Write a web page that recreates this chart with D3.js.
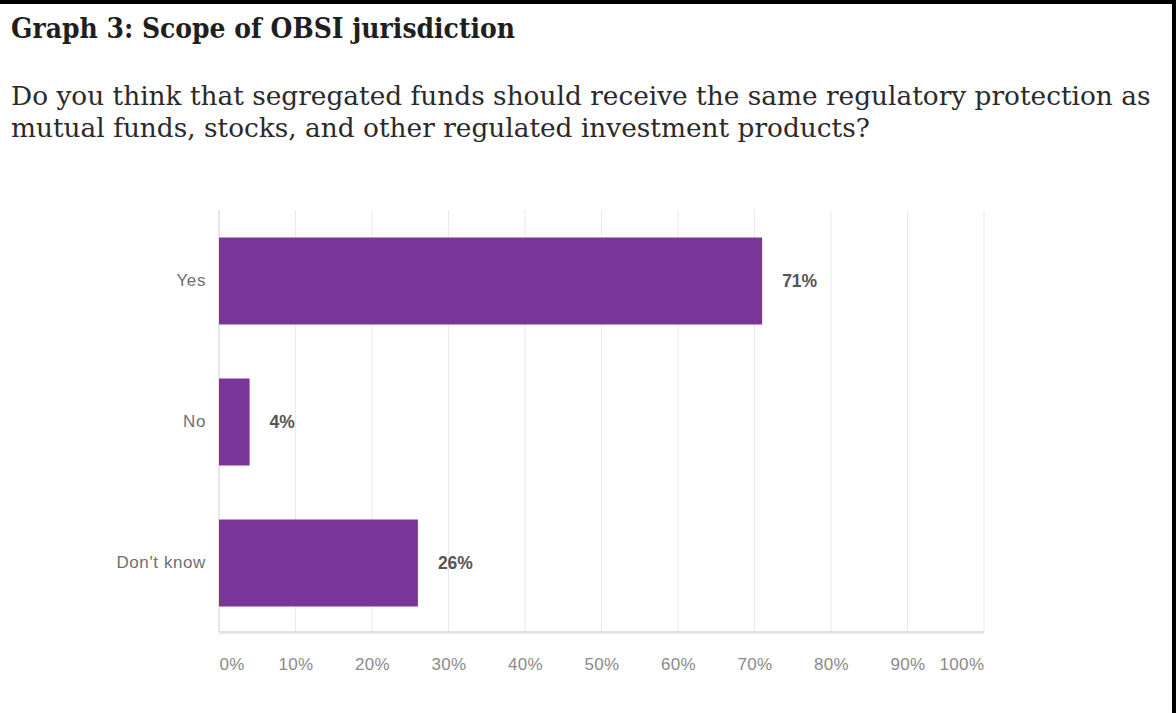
<!DOCTYPE html>
<html>
<head>
<meta charset="utf-8">
<script src="https://cdn.jsdelivr.net/npm/d3@7"></script>
<style>
  html, body { margin: 0; padding: 0; background: #fff; }
  svg { display: block; }
</style>
</head>
<body>
<svg id="chart" width="1176" height="713"></svg>
<script>
// Survey answers and their shares (percent of respondents)
const categories = ["Yes", "No", "Don't know"];
const shares = [71, 4, 26];
const tickValues = [0, 10, 20, 30, 40, 50, 60, 70, 80, 90, 100];
const tickLabels = ["0%", "10%", "20%", "30%", "40%", "50%", "60%", "70%", "80%", "90%", "100%"];

const titleText = "Graph 3: Scope of OBSI jurisdiction";
const questionLines = [
  "Do you think that segregated funds should receive the same regulatory protection as",
  "mutual funds, stocks, and other regulated investment products?"
];

const W = 1176, H = 713;
const svg = d3.select("#chart");

svg.append("rect").attr("width", W).attr("height", H).attr("fill", "#fff");

// frame: heavy rule on top and right edge
svg.append("rect").attr("x", 0).attr("y", 0).attr("width", W).attr("height", 4).attr("fill", "#000");
svg.append("rect").attr("x", W - 4).attr("y", 0).attr("width", 4).attr("height", H).attr("fill", "#000");

// heading
svg.append("text")
  .attr("x", 11).attr("y", 38)
  .attr("font-family", "'DejaVu Serif', 'Liberation Serif', serif")
  .attr("font-weight", "bold")
  .attr("font-size", 28)
  .attr("fill", "#1f1f1f")
  .attr("textLength", 504)
  .attr("lengthAdjust", "spacingAndGlyphs")
  .text(titleText);

// question, sized so the first line spans the text column
const q = svg.append("g")
  .attr("font-family", "'DejaVu Serif', 'Liberation Serif', serif")
  .attr("fill", "#2a2a2a");
const probe = q.append("text").attr("font-size", 100).text(questionLines[0]);
const qSize = 100 * 1140 / probe.node().getComputedTextLength();
probe.remove();
q.selectAll("text.q").data(questionLines).join("text")
  .attr("class", "q")
  .attr("x", 11)
  .attr("y", (d, i) => 105 + i * 32)
  .attr("font-size", qSize)
  .text(d => d);

// chart area
const x = d3.scaleLinear().domain([0, 100]).range([219, 984]);
const y = d3.scaleBand().domain(categories).range([210, 634])
  .paddingInner(0.383).paddingOuter(0.195);
const plotTop = 210, plotBottom = 632;

// vertical gridlines
svg.append("g").selectAll("line").data(tickValues).join("line")
  .attr("x1", d => x(d)).attr("x2", d => x(d))
  .attr("y1", plotTop).attr("y2", plotBottom)
  .attr("stroke", d => d === 0 ? "#cfcfcf" : "#e9e9e9")
  .attr("stroke-width", 1);

// bottom rule with a faint shadow
svg.append("line")
  .attr("x1", x(0)).attr("x2", x(100)).attr("y1", plotBottom + 1.5).attr("y2", plotBottom + 1.5)
  .attr("stroke", "#f0f0f0").attr("stroke-width", 2);
svg.append("line")
  .attr("x1", x(0)).attr("x2", x(100)).attr("y1", plotBottom).attr("y2", plotBottom)
  .attr("stroke", "#d8d8d8").attr("stroke-width", 1.5);

// bars
const rows = categories.map((c, i) => ({ cat: c, val: shares[i] }));
svg.append("g").selectAll("rect").data(rows).join("rect")
  .attr("x", x(0))
  .attr("y", d => y(d.cat))
  .attr("width", d => x(d.val) - x(0))
  .attr("height", y.bandwidth())
  .attr("fill", "#7a3599");

// value labels
svg.append("g").selectAll("text").data(rows).join("text")
  .attr("x", d => x(d.val) + 20)
  .attr("y", d => y(d.cat) + y.bandwidth() / 2)
  .attr("dy", "0.35em")
  .attr("font-family", "'Liberation Sans', Arial, sans-serif")
  .attr("font-weight", "bold")
  .attr("font-size", 17.5)
  .attr("fill", "#555")
  .text(d => d.val + "%");

// category axis
const yAxis = svg.append("g")
  .attr("transform", `translate(${x(0) - 13},0)`)
  .call(d3.axisLeft(y).tickSize(0).tickPadding(0));
yAxis.select(".domain").remove();
yAxis.selectAll("text")
  .attr("font-family", "'Liberation Sans', Arial, sans-serif")
  .attr("font-size", 17)
  .attr("letter-spacing", 0.6)
  .attr("fill", "#707070");

// percentage axis
const xAxis = svg.append("g")
  .attr("transform", `translate(0,${plotBottom})`)
  .call(d3.axisBottom(x).tickValues(tickValues)
    .tickFormat((d, i) => tickLabels[i]).tickSize(0).tickPadding(26));
xAxis.select(".domain").remove();
xAxis.selectAll("text")
  .attr("font-family", "'Liberation Sans', Arial, sans-serif")
  .attr("font-size", 17)
  .attr("letter-spacing", 0.4)
  .attr("fill", "#8a8a8a")
  .attr("text-anchor", (d, i) => i === 0 ? "start" : (i === tickValues.length - 1 ? "end" : "middle"));
</script>
</body>
</html>
